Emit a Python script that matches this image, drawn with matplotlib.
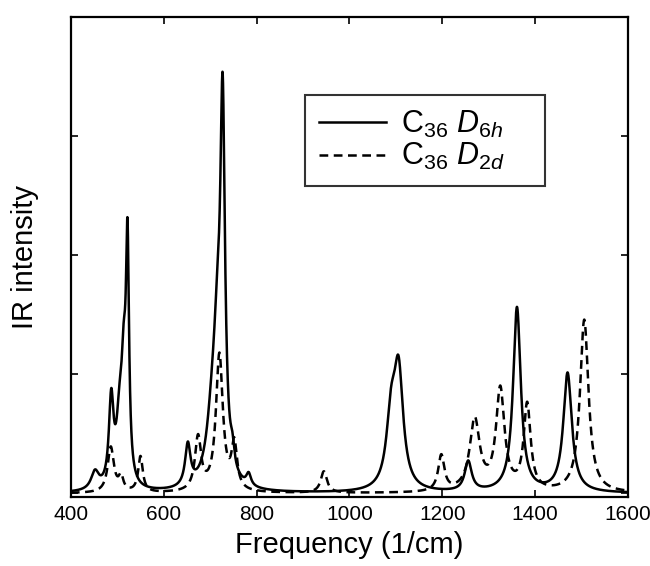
import numpy as np
import matplotlib
matplotlib.use("Agg")
import matplotlib.pyplot as plt

plt.rcParams['font.family'] = ['Liberation Sans', 'DejaVu Sans']
plt.rcParams['mathtext.fontset'] = 'custom'
plt.rcParams['mathtext.rm'] = 'Liberation Sans'
plt.rcParams['mathtext.it'] = 'Liberation Sans:italic'

## peak lists: position (1/cm), height (arb.), half width (1/cm)
d6h_freq = [452, 487, 505, 514, 522, 652, 705, 716, 727, 748, 783, 1090, 1106, 1256, 1361, 1470]
d6h_height = [0.15, 0.72, 0.5, 0.8, 1.9, 0.35, 0.5, 0.9, 2.95, 0.15, 0.1, 0.55, 0.95, 0.25, 1.55, 1.0]
d6h_width = [10, 6, 8, 6, 4, 7, 15, 10, 6, 5, 6, 12, 12, 9, 10, 11]

d2d_freq = [486, 508, 550, 674, 720, 752, 945, 1198, 1270, 1325, 1383, 1506]
d2d_height = [0.38, 0.12, 0.3, 0.45, 1.15, 0.38, 0.18, 0.3, 0.6, 0.85, 0.72, 1.45]
d2d_width = [8, 6, 6, 8, 9, 7, 8, 8, 13, 11, 9, 11]

x_ticks = [400, 600, 800, 1000, 1200, 1400, 1600]
y_ticks = [0, 1, 2, 3, 4]


def lorentz_sum(x, freq, height, width):
    y = np.zeros_like(x)
    for f, h, w in zip(freq, height, width):
        y += h * w**2 / ((x - f)**2 + w**2)
    return y


x = np.linspace(400, 1600, 6001)
y_d6h = lorentz_sum(x, d6h_freq, d6h_height, d6h_width)
y_d2d = lorentz_sum(x, d2d_freq, d2d_height, d2d_width)

fig = plt.figure(figsize=(6.5, 5.66), dpi=100)
ax = fig.add_axes([0.109, 0.122, 0.857, 0.848])

ax.plot(x, y_d6h, color='black', lw=1.8, label=r'C$_{36}$ $D_{6h}$')
ax.plot(x, y_d2d, color='black', lw=1.8, ls=(0, (3.5, 2.2)), label=r'C$_{36}$ $D_{2d}$')

ax.set_xlim(400, 1600)
ax.set_ylim(-0.03, 4.0)
ax.set_xticks(x_ticks)
ax.set_yticks(y_ticks)
ax.set_yticklabels([])
ax.tick_params(direction='in', top=True, right=True, length=5, width=1.2, labelsize=15, pad=6)
for s in ax.spines.values():
    s.set_linewidth(1.6)

ax.set_xlabel('Frequency (1/cm)', fontsize=21, labelpad=5)
ax.set_ylabel('IR intensity', fontsize=21, labelpad=17)

## legend box spans roughly x 305-545, y 95-185 px in the reference
leg = ax.legend(loc='upper left',
                bbox_to_anchor=(305 / 650, 1 - 185 / 566, 240 / 650, 90 / 566),
                bbox_transform=fig.transFigure, mode='expand', fontsize=22,
                frameon=True, fancybox=False, edgecolor='black', borderaxespad=0,
                handlelength=2.2, handletextpad=0.5, labelspacing=0.05,
                borderpad=0.45)
leg.get_frame().set_linewidth(1.5)

fig.savefig('out.png', dpi=100)
